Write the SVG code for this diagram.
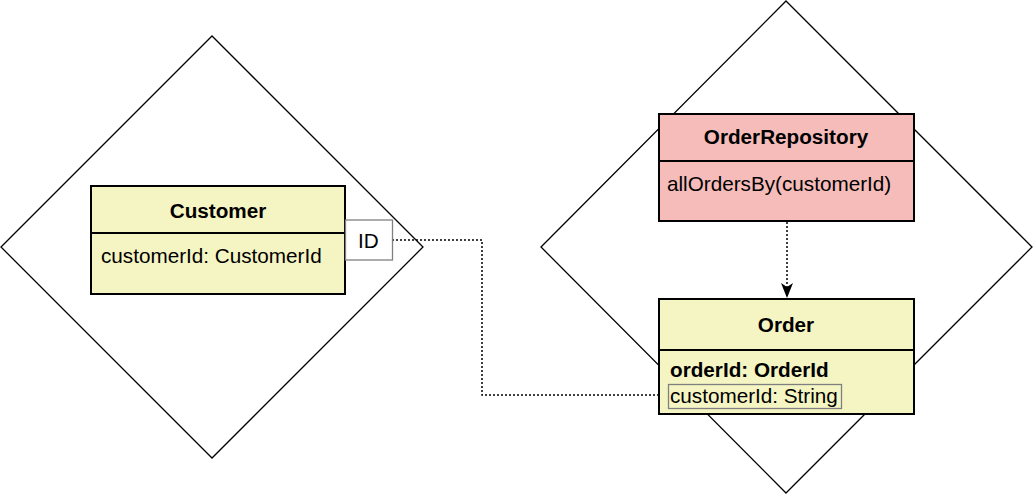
<svg xmlns="http://www.w3.org/2000/svg" width="1034" height="495" viewBox="0 0 1034 495">
<style>
.dia{fill:none;stroke:#000;stroke-width:1.3}
.box{stroke:#000;stroke-width:2}
.yel{fill:#f5f5c3}
.pink{fill:#f5bcba}
.t{font-family:"Liberation Sans",Arial,sans-serif;font-size:20.7px;fill:#000}
.b{font-weight:bold}
.con{fill:none;stroke:#000;stroke-width:1.5;stroke-dasharray:2,2}
.tag{fill:#fff;stroke:#808080;stroke-width:1.3}
</style>
<defs>
<marker id="arr" viewBox="0 0 15 12" refX="15" refY="6" markerWidth="15" markerHeight="12" markerUnits="userSpaceOnUse" orient="auto">
<path d="M0,0 L15,6 L0,12 L4,6 Z" fill="#000"/>
</marker>
</defs>
<g id="ctx-customer"><polygon class="dia" points="1,247 212,36 423,247 212,458"/></g>
<g id="ctx-order"><polygon class="dia" points="541,247 786,1 1032,247 786,493"/></g>
<g id="connectors">
<polyline class="con" points="392,240 482,240 482,395 668,395"/>
<line class="con" x1="787" y1="222" x2="787" y2="298" marker-end="url(#arr)"/>
</g>
<g id="customer">
<rect class="box yel" x="91" y="186" width="254" height="108"/>
<line class="box" x1="91" y1="233" x2="345" y2="233"/>
<text class="t b" x="218" y="218" text-anchor="middle">Customer</text>
<text class="t" x="101" y="263">customerId: CustomerId</text>
</g>
<g id="customer-id">
<rect class="tag" x="345.5" y="220" width="47" height="40"/>
<text class="t" x="358" y="248">ID</text>
</g>
<g id="order-repository">
<rect class="box pink" x="659" y="114" width="255" height="107"/>
<line class="box" x1="659" y1="161" x2="914" y2="161"/>
<text class="t b" x="786" y="144" text-anchor="middle">OrderRepository</text>
<text class="t" x="667" y="191">allOrdersBy(customerId)</text>
</g>
<g id="order">
<rect class="box yel" x="659" y="299" width="255" height="115"/>
<line class="box" x1="659" y1="350" x2="914" y2="350"/>
<text class="t b" x="786" y="332" text-anchor="middle">Order</text>
<text class="t b" x="670" y="377">orderId: OrderId</text>
<rect fill="none" stroke="#808080" stroke-width="1.3" x="668.5" y="384.5" width="173" height="24"/>
<text class="t" x="670" y="403">customerId: String</text>
</g>
</svg>
